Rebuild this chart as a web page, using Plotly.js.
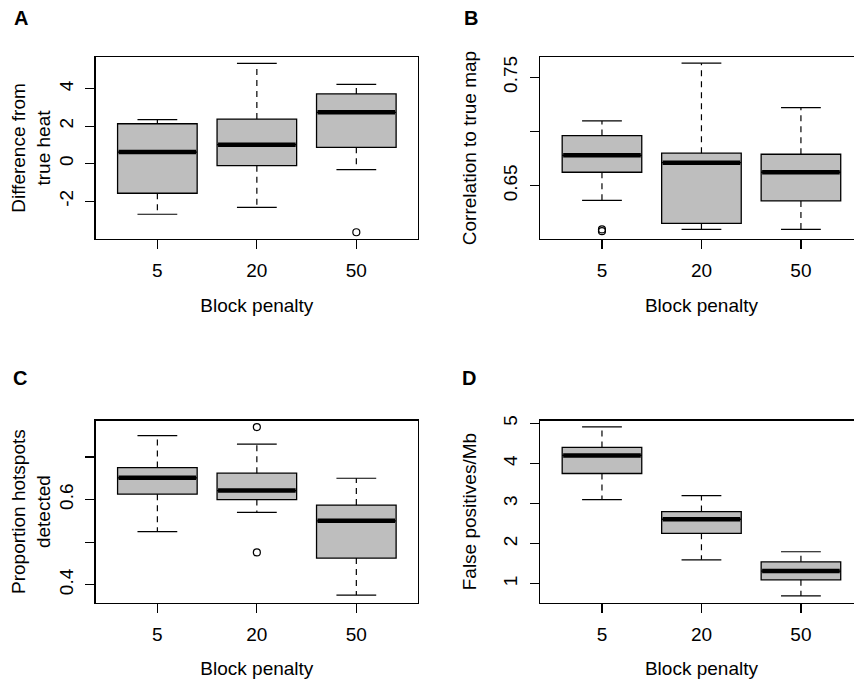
<!DOCTYPE html>
<html>
<head>
<meta charset="utf-8">
<script src="https://cdn.plot.ly/plotly-3.0.1.min.js"></script>
<style>
html, body { margin: 0; padding: 0; overflow: hidden; background: #fff; }
#chart { width: 870px; height: 688px; }
</style>
</head>
<body>
<div id="chart"></div>
<script>
// ---- Data ----
const categories = ['5', '20', '50'];
const positions = [1, 2, 3];

// Panel A: Difference from true heat
const A_lo  = [-2.70, -2.33, -0.32];
const A_q1  = [-1.58, -0.11, 0.87];
const A_med = [0.62, 1.01, 2.74];
const A_q3  = [2.13, 2.38, 3.72];
const A_hi  = [2.35, 5.35, 4.23];
const A_outX = [3];
const A_outY = [-3.66];

// Panel B: Correlation to true map
const B_lo  = [0.6365, 0.6097, 0.6097];
const B_q1  = [0.6624, 0.6153, 0.6359];
const B_med = [0.6780, 0.6712, 0.6624];
const B_q3  = [0.6962, 0.6800, 0.6790];
const B_hi  = [0.7097, 0.7630, 0.7220];
const B_outX = [1, 1];
const B_outY = [0.6096, 0.6080];

// Panel C: Proportion hotspots detected
const C_lo  = [0.525, 0.570, 0.376];
const C_q1  = [0.6126, 0.600, 0.4627];
const C_med = [0.651, 0.621, 0.550];
const C_q3  = [0.675, 0.662, 0.587];
const C_hi  = [0.750, 0.730, 0.650];
const C_outX = [2, 2];
const C_outY = [0.770, 0.476];

// Panel D: False positives/Mb
const D_lo  = [3.10, 1.60, 0.70];
const D_q1  = [3.75, 2.26, 1.10];
const D_med = [4.20, 2.61, 1.32];
const D_q3  = [4.40, 2.80, 1.55];
const D_hi  = [4.91, 3.20, 1.80];
const D_outX = [];
const D_outY = [];

// ---- Styling ----
const FONT = '"Liberation Sans", Arial, Helvetica, sans-serif';
const FS = 19;
const BOXW = 0.8;
const CAPW = 0.4;
const FILL = '#BEBEBE';

function panelTraces(xa, ya, lo, q1, med, q3, hi, outX, outY) {
  const traces = [];
  traces.push({
    type: 'box', xaxis: xa, yaxis: ya,
    x: positions, q1: q1, median: med, q3: q3,
    lowerfence: q1, upperfence: q3,
    width: BOXW, boxpoints: false,
    fillcolor: FILL, line: {color: '#000', width: 1.3},
    whiskerwidth: 0, showlegend: false, hoverinfo: 'skip'
  });
  // dashed whiskers
  const wx = [], wy = [];
  positions.forEach((p, i) => {
    wx.push(p, p, null, p, p, null);
    wy.push(q3[i], hi[i], null, q1[i], lo[i], null);
  });
  traces.push({type: 'scatter', mode: 'lines', xaxis: xa, yaxis: ya, x: wx, y: wy,
    line: {color: '#000', width: 1.2, dash: '6px,5px'}, showlegend: false, hoverinfo: 'skip'});
  // staples
  const sx = [], sy = [];
  positions.forEach((p, i) => {
    sx.push(p - CAPW / 2, p + CAPW / 2, null, p - CAPW / 2, p + CAPW / 2, null);
    sy.push(hi[i], hi[i], null, lo[i], lo[i], null);
  });
  traces.push({type: 'scatter', mode: 'lines', xaxis: xa, yaxis: ya, x: sx, y: sy,
    line: {color: '#000', width: 1.2}, showlegend: false, hoverinfo: 'skip'});
  // thick medians
  const mx = [], my = [];
  positions.forEach((p, i) => {
    mx.push(p - BOXW / 2 + 0.01, p + BOXW / 2 - 0.01, null);
    my.push(med[i], med[i], null);
  });
  traces.push({type: 'scatter', mode: 'lines', xaxis: xa, yaxis: ya, x: mx, y: my,
    line: {color: '#000', width: 4.5}, showlegend: false, hoverinfo: 'skip'});
  // outliers
  if (outX.length) {
    traces.push({type: 'scatter', mode: 'markers', xaxis: xa, yaxis: ya, x: outX, y: outY,
      marker: {symbol: 'circle-open', size: 7, color: '#000', line: {width: 1.2, color: '#000'}},
      showlegend: false, hoverinfo: 'skip'});
  }
  return traces;
}

const data = [].concat(
  panelTraces('x', 'y', A_lo, A_q1, A_med, A_q3, A_hi, A_outX, A_outY),
  panelTraces('x2', 'y2', B_lo, B_q1, B_med, B_q3, B_hi, B_outX, B_outY),
  panelTraces('x3', 'y3', C_lo, C_q1, C_med, C_q3, C_hi, C_outX, C_outY),
  panelTraces('x4', 'y4', D_lo, D_q1, D_med, D_q3, D_hi, D_outX, D_outY)
);

const W = 870, H = 688;
function xAxis(left, right, anchor) {
  return {
    domain: [left / W, right / W], anchor: anchor,
    range: [0.38, 3.62], tickvals: positions, ticktext: categories,
    ticks: 'outside', ticklen: 9, tickwidth: 1.2, tickcolor: '#000',
    showline: true, mirror: true, linecolor: '#000', linewidth: 1.3,
    showgrid: false, zeroline: false,
    tickfont: {family: FONT, size: FS, color: '#000'},
    ticklabelstandoff: 5,
    title: {text: 'Block penalty', font: {family: FONT, size: FS, color: '#000'}, standoff: 18}
  };
}
function yAxis(top, bottom, anchor, range, tv, tt, title, standoff) {
  return {
    domain: [1 - bottom / H, 1 - top / H], anchor: anchor,
    range: range, tickvals: tv, ticktext: tt, tickangle: -90,
    ticks: 'outside', ticklen: 9, tickwidth: 1.2, tickcolor: '#000',
    showline: true, mirror: true, linecolor: '#000', linewidth: 1.3,
    showgrid: false, zeroline: false,
    tickfont: {family: FONT, size: FS, color: '#000'},
    ticklabelstandoff: 5,
    title: {text: title, font: {family: FONT, size: FS, color: '#000'}, standoff: standoff}
  };
}

const layout = {
  width: W, height: H,
  margin: {l: 0, r: 0, t: 0, b: 0},
  paper_bgcolor: '#fff', plot_bgcolor: '#fff',
  font: {family: FONT, color: '#000'},
  showlegend: false,
  xaxis: xAxis(95.7, 418, 'y'),
  yaxis: yAxis(57, 239, 'x', [-4.02, 5.69], [-2, 0, 2, 4], ['-2', '0', '2', '4'], 'Difference from<br>true heat', 0),
  xaxis2: xAxis(540.3, 862.6, 'y2'),
  yaxis2: yAxis(57, 239, 'x2', [0.6008, 0.7687], [0.65, 0.70, 0.75], ['0.65', '', '0.75'], 'Correlation to true map', 18),
  xaxis3: xAxis(95.7, 418, 'y3'),
  yaxis3: yAxis(420.7, 602.5, 'x3', [0.3585, 0.785], [0.4, 0.5, 0.6, 0.7], ['0.4', '', '0.6', ''], 'Proportion hotspots<br>detected', 0),
  xaxis4: xAxis(540.3, 862.6, 'y4'),
  yaxis4: yAxis(420.7, 602.5, 'x4', [0.536, 5.065], [1, 2, 3, 4, 5], ['1', '2', '3', '4', '5'], 'False positives/Mb', 18),
  annotations: [
    {text: '<b>A</b>', x: 21 / W, y: 1 - 18 / H},
    {text: '<b>B</b>', x: 471 / W, y: 1 - 18 / H},
    {text: '<b>C</b>', x: 20 / W, y: 1 - 378 / H},
    {text: '<b>D</b>', x: 469 / W, y: 1 - 378 / H}
  ].map(a => Object.assign({xref: 'paper', yref: 'paper', showarrow: false,
    xanchor: 'center', yanchor: 'middle', font: {family: FONT, size: 20, color: '#000'}}, a))
};

Plotly.newPlot('chart', data, layout, {staticPlot: true, displayModeBar: false});
</script>
</body>
</html>
